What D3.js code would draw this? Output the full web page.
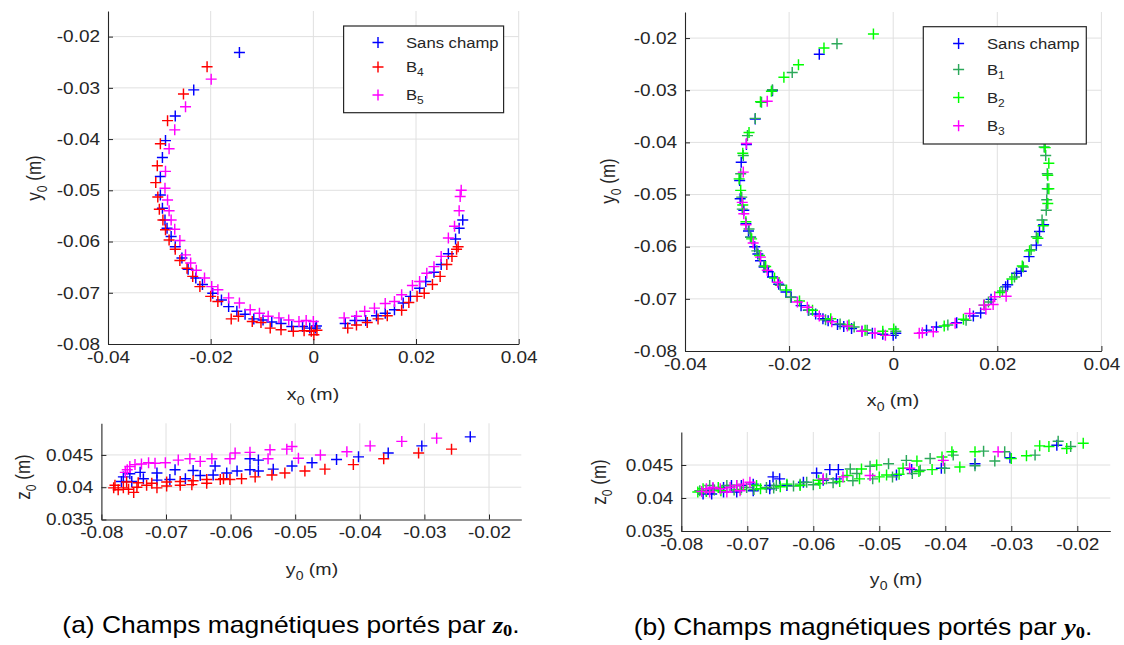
<!DOCTYPE html>
<html><head><meta charset="utf-8">
<script src="https://cdn.jsdelivr.net/npm/d3@7"></script>
<style>body{margin:0;background:#fff}svg{display:block}text{font-family:"Liberation Sans",Arial,sans-serif;fill:#262626}</style>
</head><body><svg id="c" width="1124" height="645"></svg>
<script>
// ---------- DATA ----------
// Panel (a) top: x0 vs y0
const aSansXY = [[-0.0144,-0.0231],[-0.0233,-0.0304],[-0.0269,-0.0355],[-0.0288,-0.0403],[-0.0294,-0.0436],[-0.0298,-0.0473],[-0.0298,-0.0509],[-0.0294,-0.0535],[-0.0289,-0.0558],[-0.0285,-0.0574],[-0.0277,-0.059],[-0.0269,-0.061],[-0.0256,-0.0632],[-0.0244,-0.0654],[-0.0229,-0.0671],[-0.0216,-0.0684],[-0.0196,-0.0701],[-0.0179,-0.0714],[-0.0165,-0.0727],[-0.0149,-0.0736],[-0.0133,-0.0742],[-0.0116,-0.0751],[-0.0098,-0.0753],[-0.0081,-0.0757],[-0.0063,-0.076],[-0.0042,-0.0766],[-0.0021,-0.0766],[-0.0007,-0.0769],[0.0004,-0.0769],[0.0006,-0.0765],
 [0.0062,-0.076],[0.0081,-0.0754],[0.0102,-0.0754],[0.0123,-0.0745],[0.014,-0.074],[0.0158,-0.0733],[0.0175,-0.072],[0.0189,-0.0707],[0.0207,-0.0691],[0.0219,-0.0678],[0.0235,-0.066],[0.0249,-0.0645],[0.0263,-0.0624],[0.0277,-0.0595],[0.0284,-0.0574],[0.0291,-0.0558]];
const aB4XY = [[-0.0207,-0.0259],[-0.0253,-0.0312],[-0.0284,-0.0364],[-0.0298,-0.0409],[-0.0304,-0.0452],[-0.0307,-0.0485],[-0.0303,-0.0513],[-0.03,-0.0537],[-0.0293,-0.0558],[-0.0288,-0.0577],[-0.0281,-0.0597],[-0.0269,-0.0615],[-0.026,-0.0637],[-0.0246,-0.0652],[-0.0235,-0.0668],[-0.0221,-0.0688],[-0.02,-0.0707],[-0.0186,-0.0717],[-0.016,-0.0751],[-0.0146,-0.0746],[-0.0119,-0.0756],[-0.0102,-0.0758],[-0.0084,-0.0769],[-0.0063,-0.0772],[-0.0039,-0.0775],[-0.0018,-0.0774],[-0.0004,-0.0775],[0.0001,-0.0782],[0.0007,-0.0773],
 [0.0067,-0.0769],[0.0084,-0.0763],[0.0105,-0.0758],[0.0126,-0.0751],[0.0144,-0.0745],[0.0172,-0.0734],[0.0186,-0.0719],[0.0202,-0.0707],[0.0216,-0.0701],[0.0232,-0.0684],[0.0247,-0.0668],[0.026,-0.0645],[0.027,-0.0629],[0.0279,-0.0615],[0.0282,-0.061]];
const aB5XY = [[-0.0199,-0.0283],[-0.0249,-0.0337],[-0.027,-0.0382],[-0.0281,-0.0419],[-0.0288,-0.0463],[-0.0289,-0.0496],[-0.0284,-0.0519],[-0.0281,-0.054],[-0.0277,-0.0558],[-0.027,-0.0576],[-0.026,-0.0598],[-0.0249,-0.0626],[-0.0239,-0.0642],[-0.0228,-0.0656],[-0.0212,-0.0671],[-0.0198,-0.0688],[-0.0186,-0.0694],[-0.0165,-0.071],[-0.0144,-0.072],[-0.0123,-0.0733],[-0.0105,-0.074],[-0.0088,-0.0746],[-0.0067,-0.0749],[-0.0048,-0.0753],[-0.0028,-0.0756],[-0.0014,-0.0754],[0,-0.0756],
 [0.006,-0.0749],[0.0084,-0.0746],[0.01,-0.0736],[0.0119,-0.073],[0.014,-0.0721],[0.0158,-0.0717],[0.0172,-0.0704],[0.0193,-0.0686],[0.0207,-0.0678],[0.0221,-0.0662],[0.0235,-0.0649],[0.0249,-0.0629],[0.0263,-0.0593],[0.0275,-0.057],[0.0284,-0.054],[0.0286,-0.0512],[0.0288,-0.05]];
// Panel (a) bottom: y0 vs z0
const aSansYZ = [[-0.0229,0.0478],[-0.0304,0.0464],[-0.0356,0.0453],[-0.0402,0.0447],[-0.0436,0.0443],[-0.0474,0.0438],[-0.0505,0.0433],[-0.0534,0.0428],[-0.0557,0.0442],[-0.057,0.0444],[-0.057,0.0427],[-0.0557,0.0425],[-0.059,0.0425],[-0.0624,0.0433],[-0.0658,0.0426],[-0.0686,0.0427],[-0.0714,0.0422],[-0.074,0.0423],[-0.0756,0.0421],[-0.0766,0.0416],[-0.0769,0.0409],[-0.0753,0.0409],[-0.0735,0.0413],[-0.0714,0.0411],[-0.0694,0.0412],[-0.067,0.0413],[-0.0647,0.0418],[-0.0627,0.0419],[-0.0606,0.0422]];
const aB4YZ = [[-0.0258,0.0459],[-0.0309,0.0453],[-0.0363,0.0444],[-0.041,0.0435],[-0.0454,0.0428],[-0.0485,0.0425],[-0.0516,0.0422],[-0.0536,0.0419],[-0.0562,0.0416],[-0.0583,0.0413],[-0.0601,0.0412],[-0.0616,0.0412],[-0.0637,0.0406],[-0.066,0.0404],[-0.0678,0.0403],[-0.0699,0.0402],[-0.0714,0.0399],[-0.073,0.0403],[-0.0745,0.04],[-0.075,0.0392],[-0.0758,0.0397],[-0.0766,0.0399],[-0.0774,0.0396],[-0.0781,0.0399],[-0.0779,0.0403],[-0.0761,0.0408],[-0.0743,0.0407],[-0.0722,0.0406],[-0.0699,0.0408],[-0.0678,0.0409],[-0.0658,0.041],[-0.0637,0.0412],[-0.0611,0.0413]];
const aB5YZ = [[-0.0281,0.0476],[-0.0335,0.0471],[-0.0384,0.0464],[-0.042,0.0455],[-0.0461,0.045],[-0.0495,0.0445],[-0.0505,0.0463],[-0.0513,0.0459],[-0.0539,0.0458],[-0.0542,0.0444],[-0.057,0.0454],[-0.0593,0.0453],[-0.0601,0.0444],[-0.0629,0.0444],[-0.0647,0.044],[-0.0663,0.0444],[-0.0681,0.0442],[-0.0701,0.0438],[-0.0717,0.0437],[-0.0727,0.0438],[-0.0738,0.0436],[-0.0748,0.0435],[-0.0756,0.0432],[-0.076,0.0427],[-0.0763,0.0423]];
// Panel (b) top: x0 vs y0
const bSansXY = [[-0.0142,-0.0231],[-0.0232,-0.0301],[-0.0265,-0.0355],[-0.0282,-0.0404],[-0.0292,-0.0438],[-0.0295,-0.0473],[-0.0294,-0.0508],[-0.0287,-0.053],[-0.0283,-0.0556],[-0.0278,-0.057],[-0.0274,-0.0582],[-0.0266,-0.06],[-0.026,-0.0614],[-0.0255,-0.0627],[-0.0248,-0.0639],[-0.024,-0.0648],[-0.0232,-0.0658],[-0.022,-0.0672],[-0.0206,-0.0687],[-0.0196,-0.0697],[-0.0177,-0.0713],[-0.0163,-0.0722],[-0.0149,-0.0729],[-0.0135,-0.0738],[-0.0125,-0.0742],[-0.0107,-0.0749],[-0.0095,-0.0753],[-0.008,-0.0757],[-0.006,-0.0762],[-0.004,-0.0766],[-0.002,-0.0768],[0,-0.077],[0.0005,-0.0766],
 [0.0064,-0.076],[0.0083,-0.0754],[0.0122,-0.0746],[0.0154,-0.0733],[0.0168,-0.0727],[0.0188,-0.0701],[0.0216,-0.0677],[0.022,-0.0673],[0.0237,-0.0651],[0.0246,-0.0647],[0.0261,-0.0619],[0.0275,-0.0597],[0.0281,-0.0571],[0.0289,-0.0558]];
const bB1XY = [[-0.0108,-0.0211],[-0.0194,-0.0266],[-0.0232,-0.0299],[-0.0253,-0.0323],[-0.0265,-0.0354],[-0.028,-0.0387],[-0.0288,-0.0425],[-0.0293,-0.046],[-0.0291,-0.0505],[-0.029,-0.0528],[-0.0277,-0.0566],[-0.0274,-0.0582],[-0.0262,-0.0608],[-0.0248,-0.0637],[-0.0217,-0.0674],[-0.0197,-0.0697],[-0.0162,-0.0722],[-0.013,-0.074],[-0.0102,-0.0748],[-0.0075,-0.0754],[-0.005,-0.076],[0.0005,-0.0762],
 [0.0105,-0.075],[0.014,-0.0741],[0.0183,-0.0706],[0.021,-0.0685],[0.0233,-0.0658],[0.025,-0.0639],[0.0265,-0.0606],[0.0275,-0.0581],[0.0286,-0.0549],[0.0294,-0.053],[0.0295,-0.051],[0.0296,-0.0489],[0.0296,-0.046],[0.0293,-0.0425],[0.029,-0.0409],[0.0285,-0.038],[0.027,-0.034]];
const bB2XY = [[-0.0038,-0.0192],[-0.0133,-0.0219],[-0.0182,-0.0251],[-0.021,-0.0275],[-0.0234,-0.0302],[-0.0255,-0.0322],[-0.0277,-0.0381],[-0.0289,-0.0421],[-0.0296,-0.047],[-0.0293,-0.0492],[-0.0289,-0.052],[-0.0283,-0.0552],[-0.0272,-0.0585],[-0.0257,-0.0617],[-0.0245,-0.0638],[-0.0228,-0.066],[-0.0205,-0.0683],[-0.018,-0.0704],[-0.0155,-0.0722],[-0.012,-0.0738],[-0.0085,-0.075],[-0.0054,-0.076],[-0.002,-0.0762],[0.0001,-0.0758],
 [0.0098,-0.0752],[0.0135,-0.0739],[0.0175,-0.0712],[0.0205,-0.0688],[0.0228,-0.0662],[0.0248,-0.0637],[0.0262,-0.0608],[0.0278,-0.0584],[0.0288,-0.056],[0.0297,-0.0517],[0.0299,-0.0489],[0.0297,-0.0463],[0.0299,-0.044],[0.0292,-0.041],[0.0288,-0.037],[0.0275,-0.033]];
const bB3XY = [[-0.0242,-0.0321],[-0.0282,-0.0402],[-0.0288,-0.0457],[-0.029,-0.0515],[-0.0287,-0.0537],[-0.0283,-0.0558],[-0.0269,-0.0593],[-0.0255,-0.062],[-0.0242,-0.0645],[-0.0222,-0.0668],[-0.0184,-0.0706],[-0.0165,-0.0716],[-0.0142,-0.0733],[-0.0118,-0.0744],[-0.0088,-0.0752],[-0.006,-0.0762],[-0.0035,-0.0766],[-0.0015,-0.077],
 [0.005,-0.0766],[0.0056,-0.0765],[0.0077,-0.0763],[0.0119,-0.0747],[0.0147,-0.0728],[0.0174,-0.0712],[0.0178,-0.072],[0.0192,-0.0711],[0.0195,-0.0696],[0.0217,-0.0695]];
// Panel (b) bottom: y0 vs z0
const bSansYZ = [[-0.0231,0.048],[-0.0302,0.0461],[-0.0355,0.0452],[-0.0406,0.0445],[-0.0451,0.0443],[-0.0474,0.0435],[-0.0562,0.0443],[-0.0575,0.0443],[-0.0595,0.0438],[-0.0651,0.0429],[-0.0661,0.0432],[-0.0666,0.0419],[-0.0691,0.0421],[-0.0709,0.0419],[-0.0724,0.0419],[-0.0736,0.0416],[-0.0752,0.0414],[-0.0762,0.0411],[-0.0767,0.0406],[-0.0754,0.0406],[-0.0736,0.0409],[-0.0716,0.0409],[-0.0691,0.0411],[-0.0666,0.0414],[-0.064,0.0419],[-0.0615,0.0424],[-0.0585,0.0427],[-0.0565,0.0429]];
const bB1YZ = [[-0.021,0.0478],[-0.0229,0.0486],[-0.0264,0.0465],[-0.031,0.047],[-0.0325,0.0456],[-0.0342,0.0471],[-0.0355,0.0449],[-0.0388,0.0465],[-0.0401,0.0445],[-0.0423,0.046],[-0.0438,0.0442],[-0.0459,0.0457],[-0.0486,0.0452],[-0.0514,0.0448],[-0.0534,0.0437],[-0.0544,0.0444],[-0.058,0.0429],[-0.061,0.0424],[-0.062,0.0421],[-0.0656,0.0419],[-0.0671,0.0416],[-0.0701,0.0416],[-0.0731,0.0419],[-0.0757,0.0419],[-0.0772,0.0411],[-0.075,0.0412],[-0.072,0.0412],[-0.069,0.0413],[-0.066,0.0415],[-0.063,0.0418],[-0.06,0.042],[-0.057,0.0423],[-0.054,0.0426],[-0.051,0.0429],[-0.048,0.0432],[-0.045,0.0437]];
const bB2YZ = [[-0.0191,0.0483],[-0.0216,0.0475],[-0.0243,0.0478],[-0.0257,0.0479],[-0.0277,0.0464],[-0.03,0.046],[-0.0355,0.047],[-0.0378,0.0447],[-0.039,0.047],[-0.0405,0.0462],[-0.0443,0.0456],[-0.0464,0.0445],[-0.0489,0.0435],[-0.0504,0.045],[-0.0527,0.0444],[-0.0549,0.0434],[-0.0592,0.0427],[-0.064,0.0421],[-0.0686,0.0419],[-0.0716,0.0419],[-0.0744,0.0416],[-0.0767,0.0414],[-0.0775,0.0409],[-0.0762,0.041],[-0.074,0.0411],[-0.071,0.0413],[-0.068,0.0414],[-0.065,0.0417],[-0.062,0.0419],[-0.059,0.0422],[-0.056,0.0425],[-0.053,0.0429],[-0.05,0.0432],[-0.047,0.0436],[-0.044,0.044],[-0.042,0.0443]];
const bB3YZ = [[-0.032,0.047],[-0.0403,0.0457],[-0.0454,0.0445],[-0.0514,0.0434],[-0.0555,0.0432],[-0.0585,0.0429],[-0.0696,0.0424],[-0.0706,0.0421],[-0.0716,0.0419],[-0.0726,0.0416],[-0.0741,0.0414],[-0.0752,0.0416],[-0.0762,0.0414],[-0.0769,0.041],[-0.0757,0.0409],[-0.0731,0.0409],[-0.0711,0.0411]];

// ticks
const topXTicks = [-0.04,-0.02,0,0.02,0.04];
const topXTickLabels = ["-0.04","-0.02","0","0.02","0.04"];
const topYTicks = [-0.08,-0.07,-0.06,-0.05,-0.04,-0.03,-0.02];
const topYTickLabels = ["-0.08","-0.07","-0.06","-0.05","-0.04","-0.03","-0.02"];
const botXTicks = [-0.08,-0.07,-0.06,-0.05,-0.04,-0.03,-0.02];
const botXTickLabels = ["-0.08","-0.07","-0.06","-0.05","-0.04","-0.03","-0.02"];
const botZTicks = [0.035,0.04,0.045];
const botZTickLabels = ["0.035","0.04","0.045"];
const legendA = [["Sans champ",""],["B","4"],["B","5"]];
const legendB = [["Sans champ",""],["B","1"],["B","2"],["B","3"]];
const captionA = ["(a) Champs magnétiques portés par ","z","0","."];
const captionB = ["(b) Champs magnétiques portés par ","y","0","."];

// ---------- DRAW ----------
const C = {blue:"#0000ff", red:"#ff0000", mag:"#ff00ff", sea:"#2ca85a", lime:"#00ff00"};
const SX = 1.15;
const MW = 1.45; // marker stroke
const svg = d3.select("#c");

function subText(sel, main, sub, size){
  sel.append("tspan").text(main);
  if(sub){ sel.append("tspan").attr("font-size", size*0.72).attr("dy", size*0.3).text(sub); }
}

function panel(p){
  const x = d3.scaleLinear().domain(p.xd).range(p.xr);
  const y = d3.scaleLinear().domain(p.yd).range(p.yr);
  const g = svg.append("g");
  g.append("g").selectAll("line").data(p.xt.filter(v=>Math.abs(x(v)-p.xr[0])>1)).join("line")
    .attr("x1",d=>x(d)).attr("x2",d=>x(d)).attr("y1",p.yr[0]).attr("y2",p.yr[1]).attr("stroke","#e0e0e0").attr("stroke-width",1);
  g.append("g").selectAll("line").data(p.yt.filter(v=>Math.abs(y(v)-p.yr[0])>1)).join("line")
    .attr("y1",d=>y(d)).attr("y2",d=>y(d)).attr("x1",p.xr[0]).attr("x2",p.xr[1]).attr("stroke","#e0e0e0").attr("stroke-width",1);
  p.series.forEach(s=>{
    g.append("g").selectAll("path").data(s.data).join("path")
      .attr("d",d=>`M${x(d[0])-5.5},${y(d[1])}h11M${x(d[0])},${y(d[1])-5.5}v11`)
      .attr("stroke",s.color).attr("stroke-width",MW).attr("fill","none");
  });
  const xa = d3.axisBottom(x).tickValues(p.xt).tickFormat((d,i)=>p.xl[i]).tickSizeInner(-5).tickSizeOuter(0).tickPadding(p.xpad);
  const gx = g.append("g").attr("transform",`translate(0,${p.yr[0]})`).call(xa);
  const ya = d3.axisLeft(y).tickValues(p.yt).tickFormat((d,i)=>p.yl[i]).tickSizeInner(-5).tickSizeOuter(0).tickPadding(p.ypad/SX);
  const gy = g.append("g").attr("transform",`translate(${p.xr[0]},0)`).call(ya);
  [gx,gy].forEach(a=>{
    a.select(".domain").attr("stroke","#262626").attr("stroke-width",1.1);
    a.selectAll(".tick line").attr("stroke","#262626");
    a.selectAll("text").attr("font-size",16.5).attr("font-family",'"Liberation Sans",Arial,sans-serif').attr("fill","#262626").attr("transform",`scale(${SX},1)`);
  });
  // axis labels
  const xl = g.append("text").attr("transform",`translate(${p.xlab[0]},${p.xlab[1]}) scale(${SX},1)`).attr("text-anchor","middle").attr("font-size",17);
  subText(xl, p.xlab[2], "0", 17); xl.append("tspan").attr("dy",-17*0.3).text(" (m)");
  const yl = g.append("text").attr("transform",`translate(${p.ylab[0]},${p.ylab[1]}) scale(${SX},1) rotate(-90)`).attr("text-anchor","middle").attr("font-size",17);
  subText(yl, p.ylab[2], "0", 17); yl.append("tspan").attr("dy",-17*0.3).text(" (m)");
  // legend
  if(p.legend){
    const L = p.legend;
    const lg = g.append("g");
    lg.append("rect").attr("x",L.box[0]).attr("y",L.box[1]).attr("width",L.box[2]).attr("height",L.box[3]).attr("fill","#fff").attr("stroke","#262626").attr("stroke-width",1.2);
    L.items.forEach((it,i)=>{
      const yy = L.rows[i];
      lg.append("path").attr("d",`M${L.mx-5.5},${yy}h11M${L.mx},${yy-5.5}v11`).attr("stroke",p.series[i].color).attr("stroke-width",MW);
      const t = lg.append("text").attr("transform",`translate(${L.tx},${yy+5}) scale(${SX},1)`).attr("font-size",14.5);
      subText(t, it[0], it[1], 14.5);
    });
  }
}

// (a) top
panel({xd:[-0.04,0.04], xr:[108,518.7], yd:[-0.08,-0.015], yr:[344,11],
  xt:topXTicks, xl:topXTickLabels, yt:topYTicks, yl:topYTickLabels, xpad:7, ypad:8,
  series:[{data:aSansXY,color:C.blue},{data:aB4XY,color:C.red},{data:aB5XY,color:C.mag}],
  xlab:[313,400,"x"], ylab:[41,178,"y"],
  legend:{box:[343.6,26,160,86.7], mx:378, tx:406, rows:[42.5,67,95], items:legendA}});
// (b) top
panel({xd:[-0.04,0.04], xr:[685,1101.4], yd:[-0.08,-0.015], yr:[351,12],
  xt:topXTicks, xl:topXTickLabels, yt:topYTicks, yl:topYTickLabels, xpad:7, ypad:8,
  series:[{data:bSansXY,color:C.blue},{data:bB1XY,color:C.sea},{data:bB2XY,color:C.lime},{data:bB3XY,color:C.mag}],
  xlab:[893,406,"x"], ylab:[615,181,"y"],
  legend:{box:[923.3,26.7,163,117.3], mx:958.6, tx:987, rows:[43.5,69.5,97.5,125.7], items:legendB}});
// (a) bottom
panel({xd:[-0.08,-0.015], xr:[101.4,521.3], yd:[0.035,0.0499], yr:[519.5,423.3],
  xt:botXTicks, xl:botXTickLabels, yt:botZTicks, yl:botZTickLabels, xpad:7, ypad:8,
  series:[{data:aSansYZ,color:C.blue},{data:aB4YZ,color:C.red},{data:aB5YZ,color:C.mag}],
  xlab:[312,575,"y"], ylab:[30,477,"z"]});
// (b) bottom
panel({xd:[-0.08,-0.015], xr:[681.3,1110.3], yd:[0.035,0.05], yr:[531,432],
  xt:botXTicks, xl:botXTickLabels, yt:botZTicks, yl:botZTickLabels, xpad:7, ypad:8,
  series:[{data:bSansYZ,color:C.blue},{data:bB1YZ,color:C.sea},{data:bB2YZ,color:C.lime},{data:bB3YZ,color:C.mag}],
  xlab:[896,585,"y"], ylab:[606,482,"z"]});

// captions
function caption(parts, cx, by){
  const t = svg.append("text").attr("transform",`translate(${cx},${by}) scale(${SX},1)`).attr("text-anchor","middle").attr("font-size",23).attr("fill","#000");
  t.append("tspan").text(parts[0]).attr("fill","#000");
  t.append("tspan").text(parts[1]).attr("font-family",'"Liberation Serif",serif').attr("font-style","italic").attr("font-weight","bold").attr("fill","#000");
  t.append("tspan").text(parts[2]).attr("font-family",'"Liberation Serif",serif').attr("font-weight","bold").attr("font-size",16).attr("dy",3).attr("fill","#000");
  t.append("tspan").text(parts[3]).attr("dy",-3).attr("fill","#000");
}
caption(captionA, 291, 633);
caption(captionB, 863, 635);
</script></body></html>
